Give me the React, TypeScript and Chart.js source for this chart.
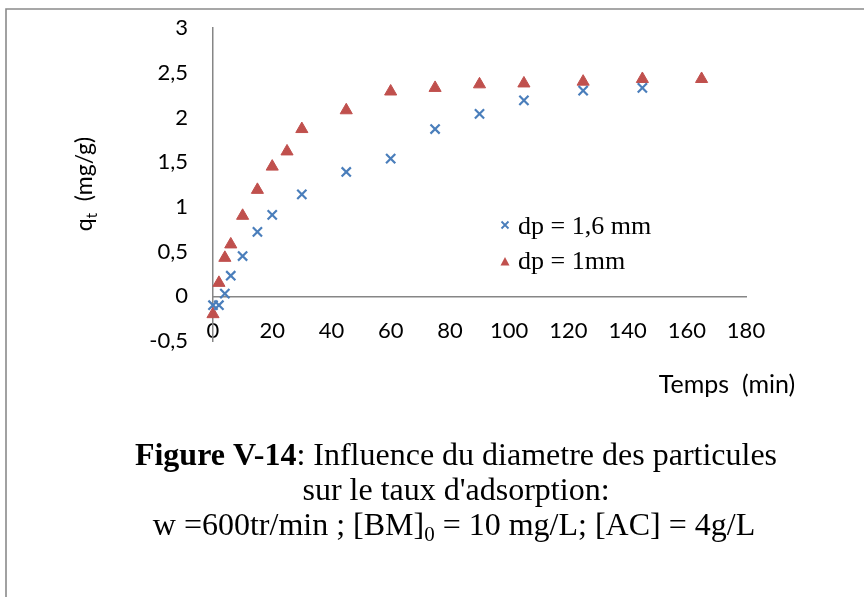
import React, { useEffect, useRef } from 'react';
import { Chart, registerables } from 'chart.js';

Chart.register(...registerables);

// ---- data ----
const timesDp16 = [0, 2, 4, 6, 10, 15, 20, 30, 45, 60, 75, 90, 105, 125, 145];
const qtDp16 = [-0.1, -0.1, 0.03, 0.23, 0.45, 0.72, 0.91, 1.14, 1.39, 1.54, 1.87, 2.04, 2.19, 2.3, 2.33];
const timesDp1 = [0, 2, 4, 6, 10, 15, 20, 25, 30, 45, 60, 75, 90, 105, 125, 145, 165];
const qtDp1 = [-0.2, 0.15, 0.43, 0.58, 0.9, 1.19, 1.45, 1.62, 1.87, 2.08, 2.29, 2.33, 2.37, 2.38, 2.4, 2.43, 2.43];
const seriesLabels = ['dp = 1,6 mm', 'dp = 1mm'];
const xAxisRange = [0, 180, 20];
const yAxisRange = [-0.5, 3, 0.5];
const xTitle = 'Temps  (min)';
const yTitleMain = 'q';
const yTitleSub = 't';
const yTitleRest = '  (mg/g)';
const captionLine1Bold = 'Figure V-14';
const captionLine1 = ': Influence du diametre des particules';
const captionLine2 = "sur le taux d'adsorption:";
const captionLine3a = 'w =600tr/min ; [BM]';
const captionLine3Sub = '0';
const captionLine3b = ' = 10 mg/L; [AC] = 4g/L';

const BLUE = '#4A7EBB';
const RED = '#C0504D';
const AXIS = '#868686';
const SANS = 'Lato';
const SERIF = 'Liberation Serif';

type Run = { text: string; font: string; dy?: number };

function drawRuns(ctx: CanvasRenderingContext2D, runs: Run[], cx: number, baseline: number) {
  let total = 0;
  const widths = runs.map((r) => {
    ctx.font = r.font;
    const w = ctx.measureText(r.text).width;
    total += w;
    return w;
  });
  let x = cx - total / 2;
  ctx.textAlign = 'left';
  ctx.textBaseline = 'alphabetic';
  runs.forEach((r, i) => {
    ctx.font = r.font;
    ctx.fillText(r.text, x, baseline + (r.dy || 0));
    x += widths[i];
  });
}

const decorPlugin = {
  id: 'decor',
  afterDraw(chart: any) {
    const ctx: CanvasRenderingContext2D = chart.ctx;
    ctx.save();
    // frame
    ctx.strokeStyle = '#8a8a8a';
    ctx.lineWidth = 1.6;
    ctx.beginPath();
    ctx.moveTo(6, 600);
    ctx.lineTo(6, 9);
    ctx.lineTo(870, 9);
    ctx.stroke();

    ctx.fillStyle = '#000';
    // y title (rotated)
    ctx.save();
    ctx.translate(92, 184);
    ctx.rotate(-Math.PI / 2);
    drawRuns(
      ctx,
      [
        { text: yTitleMain, font: `23px ${SANS}` },
        { text: yTitleSub, font: `15px ${SANS}`, dy: 5 },
        { text: yTitleRest, font: `23px ${SANS}` },
      ],
      0,
      0
    );
    ctx.restore();

    // x title
    drawRuns(ctx, [{ text: xTitle, font: `25px ${SANS}` }], 727, 393);

    // legend
    ctx.font = `26px ${SERIF}`;
    ctx.textAlign = 'left';
    ctx.textBaseline = 'alphabetic';
    ctx.fillText(seriesLabels[0], 518, 234);
    ctx.fillText(seriesLabels[1], 518, 269);
    // legend markers
    ctx.strokeStyle = BLUE;
    ctx.lineWidth = 1.8;
    ctx.beginPath();
    ctx.moveTo(501.5, 221.5);
    ctx.lineTo(508.5, 228.5);
    ctx.moveTo(508.5, 221.5);
    ctx.lineTo(501.5, 228.5);
    ctx.stroke();
    ctx.fillStyle = RED;
    ctx.beginPath();
    ctx.moveTo(505, 257);
    ctx.lineTo(509.5, 265.5);
    ctx.lineTo(500.5, 265.5);
    ctx.closePath();
    ctx.fill();

    // caption
    ctx.fillStyle = '#000';
    drawRuns(
      ctx,
      [
        { text: captionLine1Bold, font: `bold 32px ${SERIF}` },
        { text: captionLine1, font: `32px ${SERIF}` },
      ],
      456,
      465
    );
    drawRuns(ctx, [{ text: captionLine2, font: `32px ${SERIF}` }], 456, 500);
    drawRuns(
      ctx,
      [
        { text: captionLine3a, font: `32px ${SERIF}` },
        { text: captionLine3Sub, font: `21px ${SERIF}`, dy: 6 },
        { text: captionLine3b, font: `32px ${SERIF}` },
      ],
      454,
      535
    );
    ctx.restore();
  },
};

const zeroPadding = (scale: any) => {
  scale.paddingTop = 0;
  scale.paddingBottom = 0;
  scale.paddingLeft = 0;
  scale.paddingRight = 0;
};

export default function App() {
  const canvasRef = useRef<HTMLCanvasElement | null>(null);

  useEffect(() => {
    const canvas = canvasRef.current;
    if (!canvas) return;
    const chart = new Chart(canvas, {
      type: 'scatter',
      data: {
        datasets: [
          {
            label: seriesLabels[0],
            data: timesDp16.map((t, i) => ({ x: t, y: qtDp16[i] })),
            pointStyle: 'crossRot',
            pointRadius: 6.5,
            borderColor: BLUE,
            backgroundColor: BLUE,
            pointBorderWidth: 2.2,
            clip: false,
          },
          {
            label: seriesLabels[1],
            data: timesDp1.map((t, i) => ({ x: t, y: qtDp1[i] })),
            pointStyle: 'triangle',
            pointRadius: 7,
            borderColor: RED,
            backgroundColor: RED,
            pointBorderWidth: 1,
            clip: false,
          },
        ],
      },
      options: {
        responsive: false,
        animation: false,
        events: [],
        devicePixelRatio: 1,
        layout: { padding: { left: 0, top: 28, right: 118, bottom: 256 } },
        plugins: {
          legend: { display: false },
          tooltip: { enabled: false },
          title: { display: false },
        },
        scales: {
          x: {
            type: 'linear',
            position: { y: 0 } as any,
            min: xAxisRange[0],
            max: xAxisRange[1],
            afterFit: zeroPadding,
            ticks: {
              stepSize: xAxisRange[2],
              color: '#000',
              padding: 21,
              font: { family: SANS, size: 22 },
              maxRotation: 0,
              autoSkip: false,
            },
            grid: { display: false, drawTicks: false },
            border: { display: true, color: AXIS, width: 1.5 },
          },
          y: {
            type: 'linear',
            position: 'left',
            min: yAxisRange[0],
            max: yAxisRange[1],
            afterFit: (scale: any) => {
              scale.width = 213;
              zeroPadding(scale);
            },
            ticks: {
              stepSize: yAxisRange[2],
              color: '#000',
              padding: 25,
              font: { family: SANS, size: 22 },
              autoSkip: false,
              callback: (v: any) => String(v).replace('.', ','),
            },
            grid: { display: false, drawTicks: false },
            border: { display: true, color: AXIS, width: 1.5 },
          },
        },
      },
      plugins: [decorPlugin],
    });
    return () => chart.destroy();
  }, []);

  return (
    <div style={{ position: 'absolute', left: 0, top: 0, width: 864, height: 597, background: '#fff' }}>
      <canvas ref={canvasRef} width={864} height={597} style={{ display: 'block' }} />
    </div>
  );
}
